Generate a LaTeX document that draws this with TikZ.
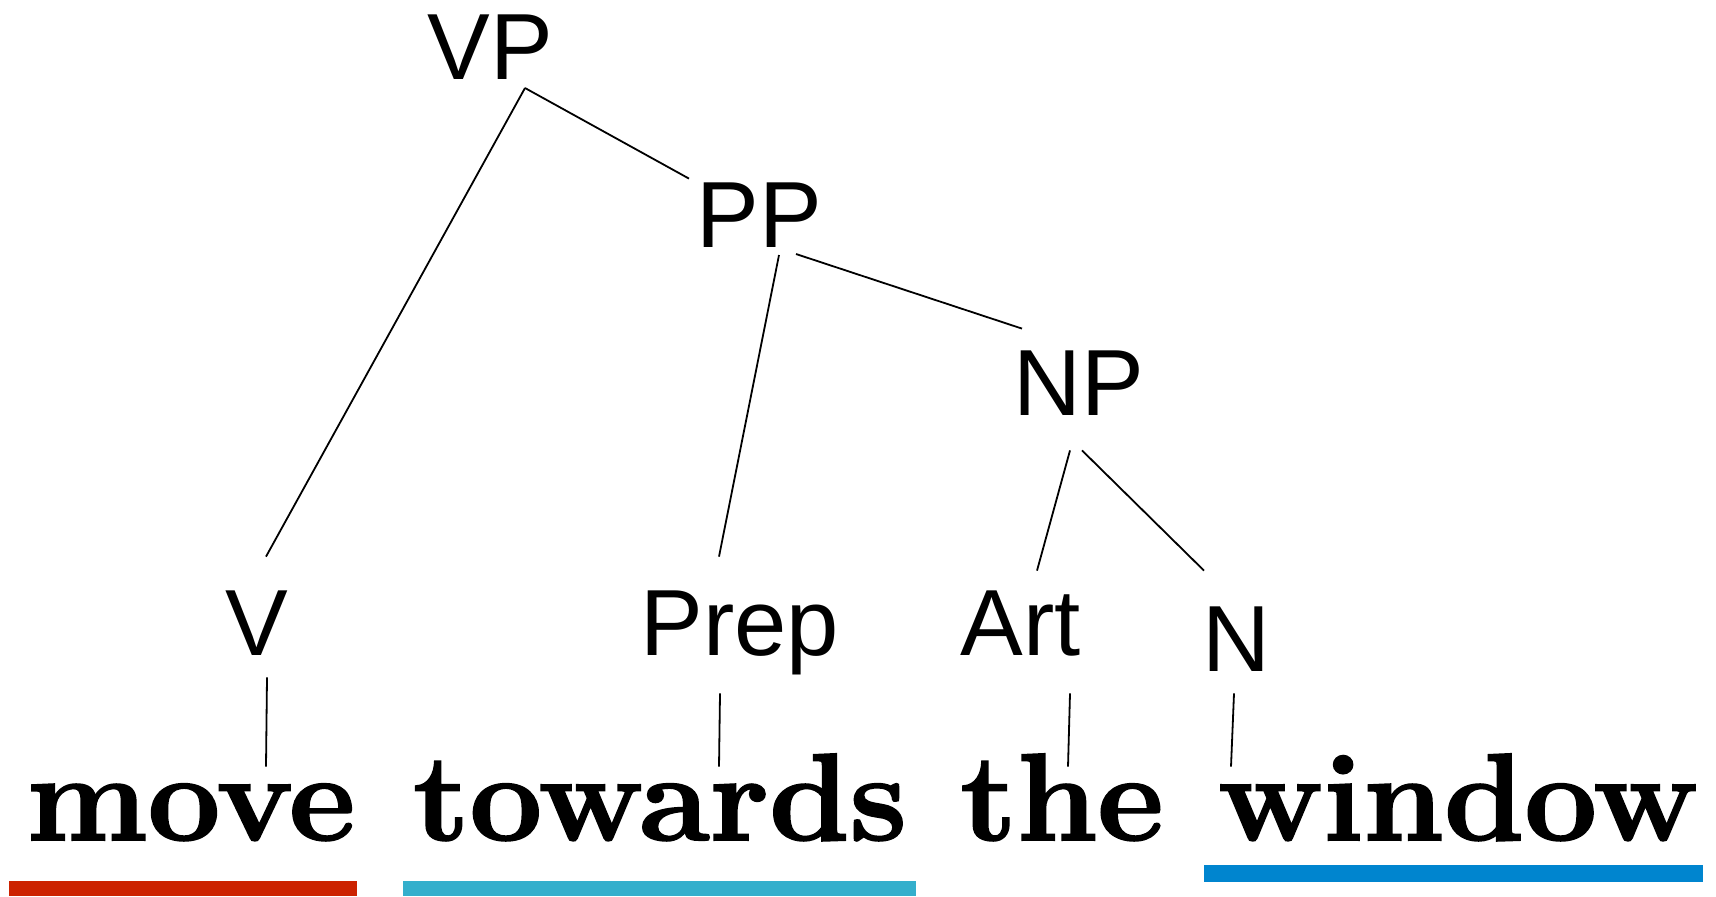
\documentclass[tikz,border=0pt]{standalone}
\usepackage{fontspec}
\setsansfont{Liberation Sans}
\newfontfamily\wordfont{Latin Modern Roman}[BoldFeatures={FakeBold=1.6,FakeStretch=1.04}]

\definecolor{barred}{RGB}{204,34,0}
\definecolor{barcyan}{RGB}{52,175,204}
\definecolor{barblue}{RGB}{0,133,207}

\begin{document}
\begin{tikzpicture}[node distance=84pt,
        % styles
        cat/.style = {
                font=\sffamily\fontsize{47}{50}\selectfont,
                text height=34pt, text depth=10pt, inner sep=0pt
            },
        word/.style = {
                font=\wordfont\bfseries\fontsize{62}{64}\selectfont,
                text height=34pt, text depth=10pt, inner sep=0pt
            },
        branch/.style = {
                line width=0.9pt
            }]

    \useasboundingbox (0,0) rectangle (858pt,-448pt);

    \node (vp) [cat] at (245pt,-27.5pt) {VP};
    \node (pp) [cat, below of=vp, xshift=134.5pt] {PP};
    \node (np) [cat, below of=pp, xshift=160pt] {NP};
    \node (art) [cat, below of=np, xshift=-29pt, yshift=-36pt] {Art};
    \node (prep) [cat, left of=art, xshift=-56.5pt] {Prep};
    \node (v) [cat, left of=prep, xshift=-157.5pt] {V};
    \node (n) [cat, right of=art, xshift=23.5pt, yshift=-8pt] {N};

    \node (move) [word, below of=v, xshift=-33pt, yshift=-8.5pt] {move};
    \node (towards) [word, below of=prep, xshift=-40pt, yshift=-8.5pt] {towards};
    \node (the) [word, below of=art, xshift=20.5pt, yshift=-8.5pt] {the};
    \node (window) [word, below of=n, xshift=111pt, yshift=-0.5pt] {window};

    % branches
    \draw [branch] ([xshift=17.5pt,yshift=-4.5pt]vp.base) -- ([xshift=4.5pt,yshift=15pt]v.north);
    \draw [branch] ([xshift=17.5pt,yshift=-4.5pt]vp.base) -- ([xshift=-35pt]pp.north);
    \draw [branch] ([xshift=10pt,yshift=-4pt]pp.base) -- ([xshift=-10.5pt,yshift=15pt]prep.north);
    \draw [branch] ([xshift=18.5pt,yshift=-3.5pt]pp.base) -- ([xshift=-28.5pt,yshift=9pt]np.north);
    \draw [branch] ([xshift=-4.5pt,yshift=-7.5pt]np.south) -- ([xshift=8pt,yshift=8pt]art.north);
    \draw [branch] ([xshift=1.5pt,yshift=-7.5pt]np.south) -- ([xshift=-16pt,yshift=16pt]n.north);

    % words
    \draw [branch] ([xshift=5pt,yshift=-1pt]v.south) -- ([xshift=37.5pt,yshift=2.5pt]move.north);
    \draw [branch] ([xshift=-10pt,yshift=-9pt]prep.south) -- ([xshift=29.5pt,yshift=2.5pt]towards.north);
    \draw [branch] ([xshift=24.5pt,yshift=-9pt]art.south) -- ([xshift=3pt,yshift=2.5pt]the.north);
    \draw [branch] ([xshift=-1pt,yshift=-1pt]n.south) -- ([xshift=-113.5pt,yshift=2.5pt]window.north);

    % underlines
    \fill [barred] (4.5pt,-440.5pt) rectangle (178.5pt,-448pt);
    \fill [barcyan] (201.5pt,-440.5pt) rectangle (458pt,-448pt);
    \fill [barblue] (602pt,-432.5pt) rectangle (851.5pt,-441pt);
\end{tikzpicture}
\end{document}
